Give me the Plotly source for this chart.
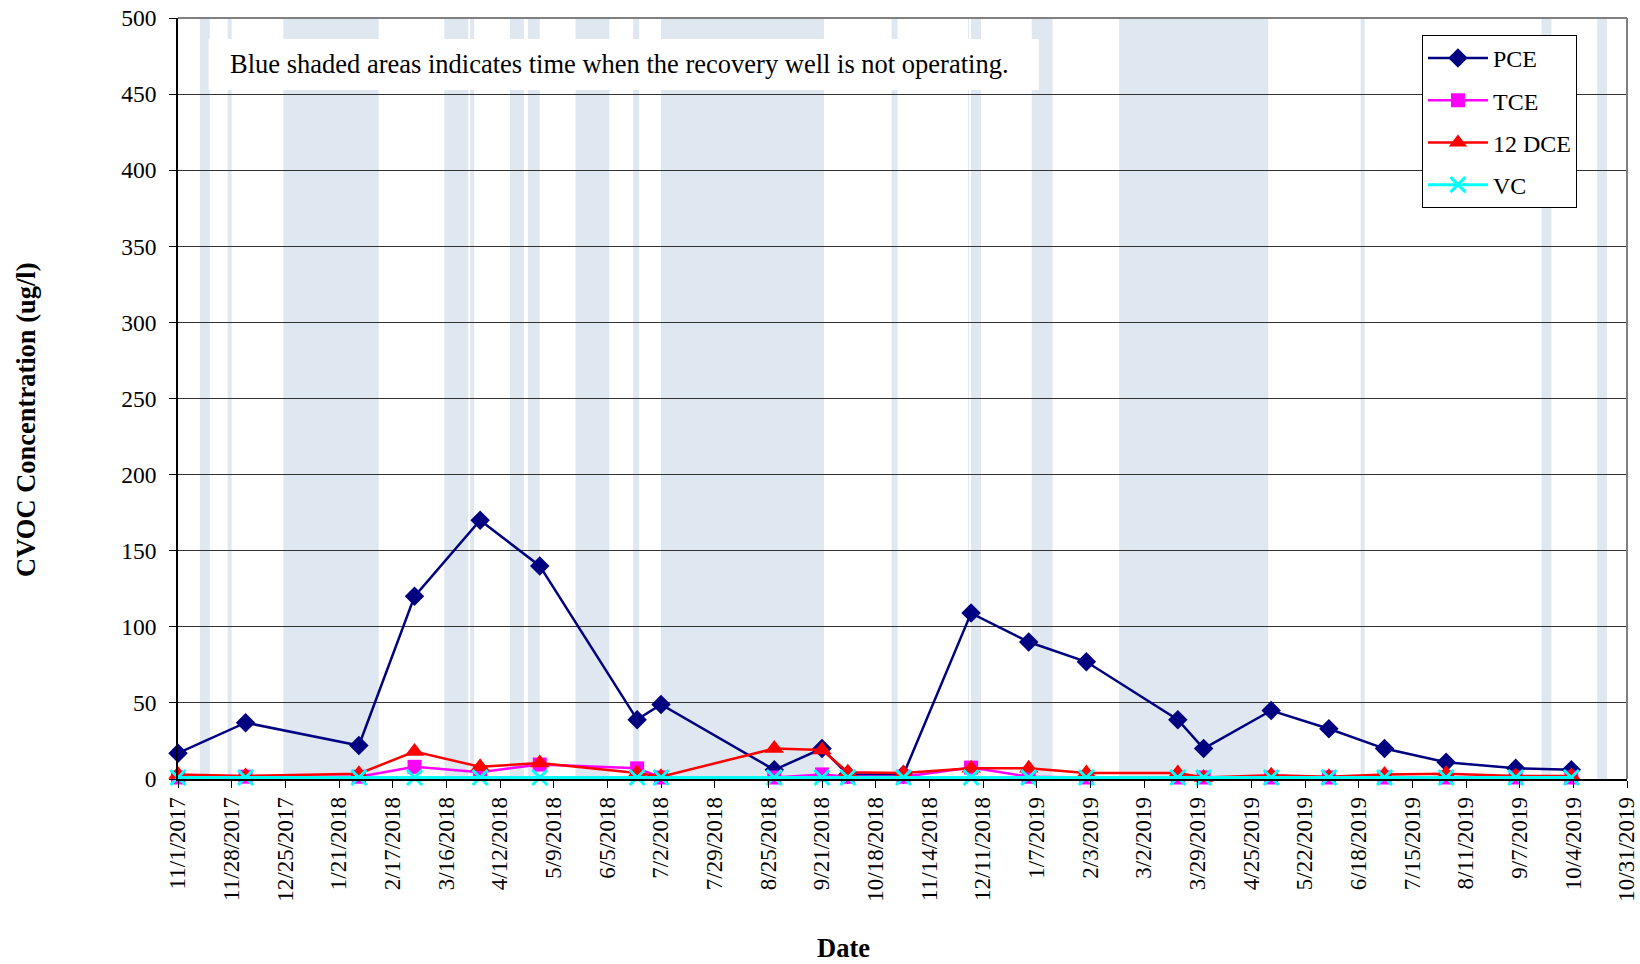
import plotly.graph_objects as go

# Sampling dates and CVOC concentrations (ug/l)
sample_dates = ["2017-11-01", "2017-12-05", "2018-01-31", "2018-02-28", "2018-04-02",
                "2018-05-02", "2018-06-20", "2018-07-02", "2018-08-28", "2018-09-21",
                "2018-10-04", "2018-11-01", "2018-12-05", "2019-01-03", "2019-02-01",
                "2019-03-19", "2019-04-01", "2019-05-05", "2019-06-03", "2019-07-01",
                "2019-08-01", "2019-09-05", "2019-10-03"]
pce = [17, 37, 22, 120, 170, 140, 39, 49, 6, 20, 3, 3, 109, 90, 77, 39, 20, 45, 33, 20, 11, 7, 6]
tce = [1, 1.5, 1.5, 8, 4.5, 9.5, 7, 1, 1, 3, 1.5, 1.5, 7.5, 1.5, 1, 1, 1, 1, 1, 1, 1, 1, 1]
dce12 = [3, 2, 3.5, 18, 8, 10.5, 4, 1.5, 20, 19, 4.5, 4, 7, 7, 4, 4, 1, 2.5, 1.5, 3, 3.5, 2, 2]
vc = [1] * 23

# Periods when the recovery well was not operating
off_start = ["2017-11-12", "2017-11-26", "2017-12-24", "2018-03-15", "2018-03-28",
             "2018-04-17", "2018-04-26", "2018-05-20", "2018-06-18", "2018-07-02",
             "2018-10-26", "2018-12-03 12:00", "2018-12-05", "2019-01-04 12:00",
             "2019-02-17 12:00", "2019-06-19", "2019-09-18", "2019-10-16"]
off_end = ["2017-11-17", "2017-11-28", "2018-02-10", "2018-03-27", "2018-03-30",
           "2018-04-24", "2018-05-02", "2018-06-06", "2018-06-21", "2018-09-22",
           "2018-10-29", "2018-12-04", "2018-12-10", "2019-01-15",
           "2019-05-03 12:00", "2019-06-21", "2019-09-23", "2019-10-21"]

# Axis ticks
x_tick_dates = ["2017-11-01", "2017-11-28", "2017-12-25", "2018-01-21", "2018-02-17",
                "2018-03-16", "2018-04-12", "2018-05-09", "2018-06-05", "2018-07-02",
                "2018-07-29", "2018-08-25", "2018-09-21", "2018-10-18", "2018-11-14",
                "2018-12-11", "2019-01-07", "2019-02-03", "2019-03-02", "2019-03-29",
                "2019-04-25", "2019-05-22", "2019-06-18", "2019-07-15", "2019-08-11",
                "2019-09-07", "2019-10-04", "2019-10-31"]
x_tick_labels = ["11/1/2017", "11/28/2017", "12/25/2017", "1/21/2018", "2/17/2018",
                 "3/16/2018", "4/12/2018", "5/9/2018", "6/5/2018", "7/2/2018",
                 "7/29/2018", "8/25/2018", "9/21/2018", "10/18/2018", "11/14/2018",
                 "12/11/2018", "1/7/2019", "2/3/2019", "3/2/2019", "3/29/2019",
                 "4/25/2019", "5/22/2019", "6/18/2019", "7/15/2019", "8/11/2019",
                 "9/7/2019", "10/4/2019", "10/31/2019"]
y_ticks = [0, 50, 100, 150, 200, 250, 300, 350, 400, 450, 500]

SERIF = "Liberation Serif, Times New Roman, serif"
BAND = "#DFE7F1"

fig = go.Figure()

series = [
    ("PCE", pce, "#000080", "diamond", 15),
    ("TCE", tce, "#FF00FF", "square", 14),
    ("12 DCE", dce12, "#FF0000", "triangle-up", 17),
]
for name, vals, color, symbol, size in series:
    fig.add_trace(go.Scatter(
        x=sample_dates, y=vals, name=name, legendgroup=name,
        mode="lines+markers", cliponaxis=False,
        line=dict(color=color, width=2.5),
        marker=dict(symbol=symbol, size=size, color=color),
    ))
fig.add_trace(go.Scatter(
    x=sample_dates, y=vc, name="VC", legendgroup="VC",
    mode="lines+markers", cliponaxis=False,
    line=dict(color="#00FFFF", width=3),
    marker=dict(symbol="x-thin", size=15, line=dict(color="#00FFFF", width=3)),
))

shapes = []
for s, e in zip(off_start, off_end):
    shapes.append(dict(type="rect", xref="x", yref="paper", x0=s, x1=e, y0=0, y1=1,
                       fillcolor=BAND, line=dict(width=0), layer="below"))
# white panel behind the note
shapes.append(dict(type="rect", xref="paper", yref="paper", x0=0.0211, x1=0.594,
                   y0=0.9054, y1=0.9724, fillcolor="white", line=dict(width=0),
                   layer="below"))
# grey frame on top and right
shapes.append(dict(type="line", xref="paper", yref="paper", x0=0, x1=1, y0=1, y1=1,
                   line=dict(color="#808080", width=2), layer="above"))
shapes.append(dict(type="line", xref="paper", yref="paper", x0=1, x1=1, y0=0, y1=1,
                   line=dict(color="#808080", width=2), layer="above"))

annotations = [
    dict(text="Blue shaded areas indicates time when the recovery well is not operating.",
         xref="paper", yref="paper", x=0.0342, y=0.9389, xanchor="left", yanchor="middle",
         showarrow=False, font=dict(family=SERIF, size=26.5, color="black")),
    dict(text="<b>CVOC Concentration (ug/l)</b>", xref="paper", yref="paper",
         x=-0.1048, y=0.472, xanchor="center", yanchor="middle", textangle=-90,
         showarrow=False, font=dict(family=SERIF, size=26.5, color="black")),
    dict(text="<b>Date</b>", xref="paper", yref="paper", x=0.459, y=-0.2428,
         xanchor="center", yanchor="bottom", showarrow=False, borderpad=0,
         font=dict(family=SERIF, size=26.5, color="black")),
]

fig.update_layout(
    width=1640, height=964,
    margin=dict(l=178, r=13, t=18, b=185),
    paper_bgcolor="white", plot_bgcolor="white",
    font=dict(family=SERIF, size=23, color="black"),
    shapes=shapes, annotations=annotations,
    showlegend=True,
    legend=dict(x=0.8585, y=0.9777, xanchor="left", yanchor="top",
                bgcolor="white", bordercolor="black", borderwidth=1,
                font=dict(family=SERIF, size=24, color="black"),
                tracegroupgap=8, itemwidth=60),
    xaxis=dict(range=["2017-11-01", "2019-10-31"], tickvals=x_tick_dates,
               ticktext=x_tick_labels, tickangle=-90, showgrid=False,
               ticks="outside", ticklen=7, tickcolor="black", automargin=False,
               showline=True, linecolor="black", linewidth=1.5, zeroline=False,
               tickfont=dict(family=SERIF, size=23, color="black")),
    yaxis=dict(range=[0, 500], tickvals=y_ticks, showgrid=True, gridcolor="#333333",
               gridwidth=1, ticks="outside", ticklen=7, tickcolor="black",
               automargin=False, ticklabelstandoff=8,
               showline=True, linecolor="black", linewidth=1.5, zeroline=False,
               tickfont=dict(family=SERIF, size=23.5, color="black")),
)

fig.write_html("out.html")
